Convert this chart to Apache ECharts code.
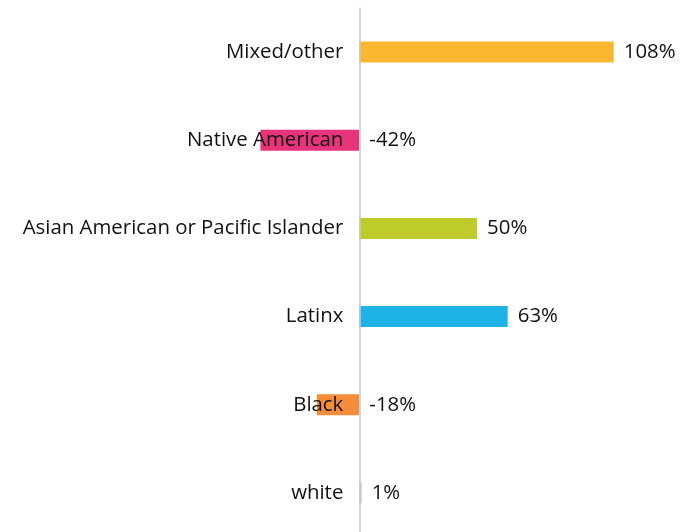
<!DOCTYPE html>
<html>
<head>
<meta charset="utf-8">
<style>
  html, body { margin: 0; padding: 0; background: #fff; }
  #chart { width: 688px; height: 532px; }
</style>
<script src="https://cdn.jsdelivr.net/npm/echarts@6/dist/echarts.min.js"></script>
</head>
<body>
<div id="chart"></div>
<script>
// Percent change by group, listed top to bottom
const categories = ['Mixed/other', 'Native American', 'Asian American or Pacific Islander', 'Latinx', 'Black', 'white'];
const changes = [108, -42, 50, 63, -18, 1];
const barColors = ['#FBB731', '#E8347A', '#BECB2A', '#1FB2E6', '#F58C3A', '#C3C8D5'];

const chart = echarts.init(document.getElementById('chart'), null, { renderer: 'canvas' });

const fontFamily = '"Open Sans", "Noto Sans", sans-serif';

// value range of the horizontal scale; the zero line sits inside the grid
const xMin = -60, xMax = 120;
const gridLeft = 218, gridWidth = 424;
const zeroOffset = gridWidth * (0 - xMin) / (xMax - xMin);

chart.setOption({
  animation: false,
  grid: { left: gridLeft, width: gridWidth, top: 8, height: 529, containLabel: false, outerBoundsMode: 'none' },
  xAxis: {
    type: 'value',
    min: xMin,
    max: xMax,
    show: false
  },
  yAxis: {
    type: 'category',
    data: categories,
    inverse: true,
    z: 10,
    axisLine: { show: true, onZero: true, lineStyle: { color: '#BFCAD7', width: 1.5 } },
    axisTick: { show: false },
    axisLabel: {
      // labels are anchored at the grid's left edge; shift them so they end just left of the zero line
      margin: -(zeroOffset - 16),
      color: '#111',
      fontSize: 20.4,
      fontFamily: fontFamily
    }
  },
  series: [{
    type: 'bar',
    barWidth: 21,
    data: changes.map((v, i) => ({ value: v, itemStyle: { color: barColors[i] } })),
    label: {
      show: true,
      position: 'right',
      distance: 10,
      color: '#111',
      fontSize: 20.4,
      fontFamily: fontFamily,
      formatter: p => p.value + '%'
    }
  }]
});
</script>
</body>
</html>
